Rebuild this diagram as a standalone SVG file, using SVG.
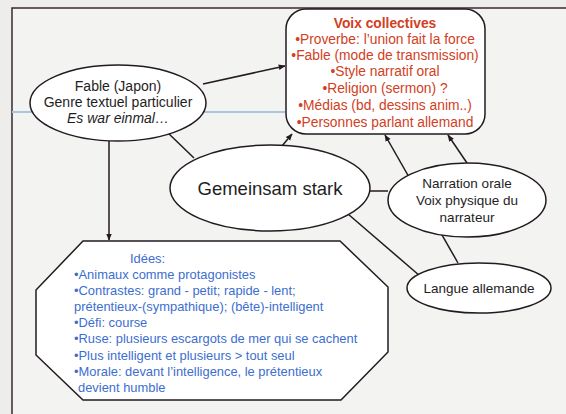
<svg xmlns="http://www.w3.org/2000/svg" width="566" height="414" viewBox="0 0 566 414">
<defs>
<marker id="ah" viewBox="0 0 10 10" refX="9" refY="5" markerWidth="7" markerHeight="7" orient="auto" markerUnits="userSpaceOnUse">
<path d="M0,1 L10,5 L0,9 Z" fill="#231a1f"/>
</marker>
<style>
.node{fill:#ffffff;stroke:#231a1f;stroke-width:1.5}
.c{fill:none;stroke:#231a1f;stroke-width:1.5}
.t{font-family:"Liberation Sans",Arial,sans-serif;font-size:13.5px;fill:#1e1e1e;text-anchor:middle}
.r{font-family:"Liberation Sans",Arial,sans-serif;font-size:13.8px;fill:#d2401e;text-anchor:middle}
.b{font-family:"Liberation Sans",Arial,sans-serif;font-size:12.9px;fill:#3c6ed0}
</style>
</defs>
<rect x="0" y="0" width="566" height="414" fill="#ededeb"/>
<rect x="12" y="8" width="600" height="450" fill="#f3f3f1" stroke="#3a2a30" stroke-width="1.5"/>
<line x1="12" y1="112" x2="285" y2="112" stroke="#a9c6dc" stroke-width="2"/>
<g id="connectors">
<line class="c" x1="203" y1="84" x2="285" y2="66" marker-end="url(#ah)"/>
<line class="c" x1="109" y1="141" x2="109" y2="240" marker-end="url(#ah)"/>
<line class="c" x1="167" y1="132" x2="194" y2="158"/>
<line class="c" x1="282" y1="146" x2="292" y2="134" marker-end="url(#ah)"/>
<line class="c" x1="458" y1="263" x2="385" y2="135" marker-end="url(#ah)"/>
<line class="c" x1="467" y1="163" x2="448" y2="135" marker-end="url(#ah)"/>
<line class="c" x1="370" y1="191" x2="388" y2="191"/>
<line class="c" x1="348" y1="214" x2="420" y2="276"/>
</g>
<g id="voix">
<rect class="node" x="286" y="9" width="199" height="125" rx="20"/>
<text class="r" x="385" y="28" font-weight="bold">Voix collectives</text>
<text class="r" x="385" y="44">•Proverbe: l’union fait la force</text>
<text class="r" x="385" y="60">•Fable (mode de transmission)</text>
<text class="r" x="385" y="76">•Style narratif oral</text>
<text class="r" x="385" y="93">•Religion (sermon) ?</text>
<text class="r" x="385" y="110">•Médias (bd, dessins anim..)</text>
<text class="r" x="385" y="127">•Personnes parlant allemand</text>
</g>
<g id="fable">
<ellipse class="node" cx="118" cy="103" rx="88" ry="38"/>
<text class="t" x="118" y="91" style="font-size:14px">Fable (Japon)</text>
<text class="t" x="118" y="107" style="font-size:14px">Genre textuel particulier</text>
<text class="t" x="118" y="123" style="font-size:14px" font-style="italic">Es war einmal…</text>
</g>
<g id="gemeinsam">
<ellipse class="node" cx="270" cy="188" rx="100" ry="43"/>
<text class="t" x="270" y="195" style="font-size:18.5px">Gemeinsam stark</text>
</g>
<g id="narration">
<ellipse class="node" cx="467" cy="200" rx="79" ry="37"/>
<text class="t" x="467" y="188">Narration orale</text>
<text class="t" x="467" y="205">Voix physique du</text>
<text class="t" x="467" y="222">narrateur</text>
</g>
<g id="langue">
<ellipse class="node" cx="479" cy="288" rx="72" ry="25"/>
<text class="t" x="479" y="293">Langue allemande</text>
</g>
<g id="idees">
<polygon class="node" points="83,241 340,241 388,287 388,352 341,400 83,400 36,355 36,290"/>
<text class="b" x="130" y="263">Idées:</text>
<text class="b" x="74" y="279">•Animaux comme protagonistes</text>
<text class="b" x="74" y="295">•Contrastes: grand - petit; rapide - lent;</text>
<text class="b" x="74" y="311">prétentieux-(sympathique); (bête)-intelligent</text>
<text class="b" x="74" y="327">•Défi: course</text>
<text class="b" x="74" y="343">•Ruse: plusieurs escargots de mer qui se cachent</text>
<text class="b" x="74" y="360">•Plus intelligent et plusieurs &gt; tout seul</text>
<text class="b" x="74" y="376">•Morale: devant l’intelligence, le prétentieux</text>
<text class="b" x="78" y="392"> devient humble</text>
</g>
</svg>
